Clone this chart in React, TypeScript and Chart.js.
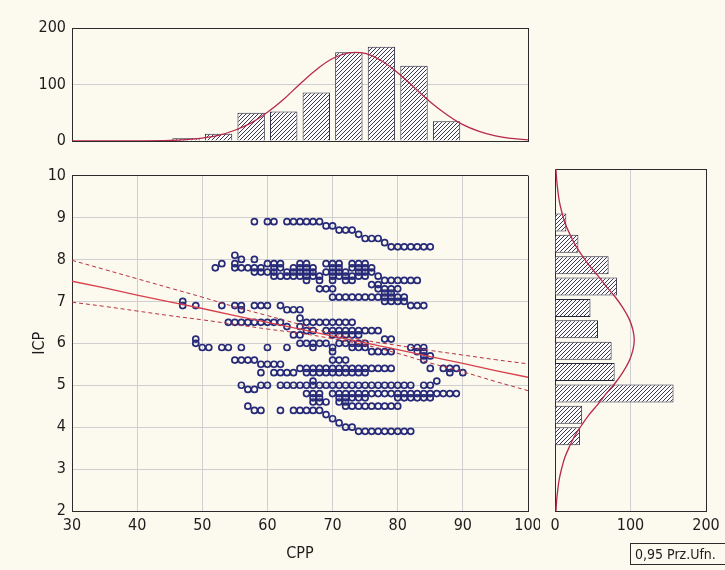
import React, { useEffect, useRef } from 'react';
import { Chart, registerables } from 'chart.js';

Chart.register(...registerables);

const FONT_FAMILY = "'Liberation Sans Narrow', 'Arial Narrow', 'DejaVu Sans Condensed', 'Liberation Sans', sans-serif";
const TEXT = '#1c1c1c';
const FRAME = '#2b2b2b';
const GRID = '#cfcfcf';
const NAVY = '#262a78';
const FIT_RED = '#d8404c';
const BAND_RED = '#b8303e';
const CURVE_RED = '#b7284a';
const BAR_EDGE = '#24243c';
const PAGE_BG = '#fcfaef';

// CPP histogram: bin centres (5-unit bins) and counts
const cppBins = [47.5, 52.5, 57.5, 62.5, 67.5, 72.5, 77.5, 82.5, 87.5];
const cppCounts = [5, 13, 50, 52, 86, 157, 167, 133, 35];

// Expected-normal curve over the CPP histogram
const cppCurveX = [30, 35, 40, 45, 47.5, 50, 52.5, 55, 57.5, 60, 62.5, 65, 67.5, 70, 72.5, 75, 77.5, 80, 82.5, 85, 87.5, 90, 92.5, 95, 97.5, 100];
const cppCurveY = [0, 0, 0.2, 1, 2.4, 5.2, 10, 19, 32, 51, 74, 101, 126, 146, 156, 155, 142, 121, 95, 69, 47, 29, 17, 9, 4.5, 2];

// ICP histogram: bin centres (0.5-unit bins) and counts
const icpBins = [3.75, 4.25, 4.75, 5.25, 5.75, 6.25, 6.75, 7.25, 7.75, 8.25, 8.75];
const icpCounts = [33, 36, 157, 79, 75, 57, 47, 82, 71, 31, 15];

// Expected-normal curve over the ICP histogram
const icpCurveIcp = [2, 2.25, 2.5, 2.75, 3, 3.25, 3.5, 3.75, 4, 4.25, 4.5, 4.75, 5, 5.25, 5.5, 5.75, 6, 6.25, 6.5, 6.75, 7, 7.25, 7.5, 7.75, 8, 8.25, 8.5, 8.75, 9, 9.25, 9.5, 9.75, 10];
const icpCurveCount = [1.3, 2.2, 3.7, 5.7, 8.9, 13, 19, 26, 35, 45, 57, 68, 80, 90, 98, 103, 105, 103, 98, 90, 80, 68, 57, 45, 35, 26, 19, 13, 8.9, 5.7, 3.7, 2.2, 1.3];

// Linear fit of ICP on CPP with its 0.95 confidence band
const fitCpp = [30, 35, 40, 45, 50, 55, 60, 65, 70, 75, 80, 85, 90, 95, 100];
const fitIcp = [7.48, 7.32, 7.15, 6.99, 6.83, 6.66, 6.5, 6.34, 6.17, 6.01, 5.85, 5.68, 5.52, 5.35, 5.19];
const fitUpper = [7.98, 7.76, 7.54, 7.32, 7.1, 6.87, 6.66, 6.45, 6.23, 6.07, 5.95, 5.83, 5.72, 5.61, 5.51];
const fitLower = [6.98, 6.88, 6.77, 6.66, 6.56, 6.45, 6.34, 6.24, 6.11, 5.96, 5.76, 5.53, 5.32, 5.09, 4.87];

// Observations grouped by ICP level: each row lists the CPP values seen at that ICP
const icpLevels = [
  8.9, 8.8, 8.7, 8.6, 8.5, 8.4, 8.3, 8.1, 8.0, 7.9,
  7.8, 7.7, 7.6, 7.5, 7.4, 7.3, 7.2, 7.1, 7.0, 6.9,
  6.8, 6.6, 6.5, 6.4, 6.3, 6.2, 6.1, 6.0, 5.9, 5.8,
  5.7, 5.6, 5.5, 5.4, 5.3, 5.1, 5.0, 4.9, 4.8, 4.7,
  4.6, 4.5, 4.4, 4.3, 4.2, 4.1, 4.0, 3.9,
];
const cppAtLevel = [
  [58, 60, 61, 63, 64, 65, 66, 67, 68],
  [69, 70],
  [71, 72, 73],
  [74],
  [75, 76, 77],
  [78],
  [79, 80, 81, 82, 83, 84, 85],
  [55],
  [56, 58],
  [53, 55, 60, 61, 62, 65, 66, 69, 70, 71, 73, 74, 75],
  [52, 55, 56, 57, 58, 59, 61, 62, 64, 65, 66, 67, 70, 71, 73, 74, 75, 76],
  [58, 59, 60, 61, 63, 64, 65, 66, 67, 69, 70, 71, 72, 74, 75, 76],
  [61, 62, 63, 64, 65, 66, 67, 68, 70, 71, 72, 73, 74, 75, 77],
  [66, 68, 70, 72, 73, 78, 79, 80, 81, 82, 83],
  [76, 77],
  [68, 69, 70, 77, 78, 79, 80],
  [78, 79],
  [70, 71, 72, 73, 74, 75, 76, 77, 78, 79, 80, 81],
  [47, 78, 79, 80, 81],
  [47, 49, 53, 55, 56, 58, 59, 60, 62, 82, 83, 84],
  [56, 63, 64, 65],
  [65],
  [54, 55, 56, 57, 58, 59, 60, 61, 62, 66, 67, 68, 69, 70, 71, 72, 73],
  [63, 65],
  [66, 67, 69, 70, 71, 72, 73, 74, 75, 76, 77],
  [64, 65, 70, 71, 72, 73, 74],
  [49, 78, 79],
  [49, 65, 66, 67, 68, 69, 71, 72, 73, 74, 75],
  [50, 51, 53, 54, 56, 60, 63, 67, 70, 73, 74, 75, 82, 83, 84],
  [70, 76, 77, 78, 79, 83, 84],
  [84, 85],
  [55, 56, 57, 58, 70, 71, 72, 84],
  [59, 60, 61, 62],
  [65, 66, 67, 68, 69, 70, 71, 72, 73, 74, 75, 76, 77, 78, 79, 85, 87, 88, 89],
  [59, 61, 62, 63, 64, 66, 67, 68, 69, 70, 71, 72, 73, 74, 75, 88, 90],
  [67, 86],
  [56, 59, 60, 62, 63, 64, 65, 66, 67, 68, 69, 70, 71, 72, 73, 74, 75, 76, 77, 78, 79, 80, 81, 82, 84, 85],
  [57, 58],
  [66, 67, 68, 70, 71, 72, 73, 74, 75, 76, 77, 78, 79, 80, 81, 82, 83, 84, 85, 86, 87, 88, 89],
  [67, 68, 71, 72, 73, 74, 75, 80, 81, 82, 83, 84, 85],
  [67, 68, 69, 71, 72],
  [57, 72, 73, 74, 75, 76, 77, 78, 79, 80],
  [58, 59, 62, 64, 65, 66, 67, 68],
  [69],
  [70],
  [71],
  [72, 73],
  [74, 75, 76, 77, 78, 79, 80, 81, 82],
];

const cppTicks = { min: 30, max: 100, step: 10 };
const icpTicks = { min: 2, max: 10, step: 1 };
const cppCountTicks = { min: 0, max: 200, step: 100 };
const icpCountTicks = { min: 0, max: 200, step: 100 };

const tickFont = { family: FONT_FAMILY, size: 16 };

function hatchPattern(): CanvasPattern | string {
  const tile = document.createElement('canvas');
  tile.width = 4;
  tile.height = 4;
  const g = tile.getContext('2d');
  if (!g) return '#bbbbbb';
  g.fillStyle = '#fbfbfd';
  g.fillRect(0, 0, 4, 4);
  g.strokeStyle = '#3c3c46';
  g.lineWidth = 1;
  g.beginPath();
  g.moveTo(0, 4);
  g.lineTo(4, 0);
  g.moveTo(-1, 1);
  g.lineTo(1, -1);
  g.moveTo(3, 5);
  g.lineTo(5, 3);
  g.stroke();
  return g.createPattern(tile, 'repeat') || '#bbbbbb';
}

// grid line colour: frame colour at the axis ends, optional light line inside
const edgeGrid = (lo: number, hi: number, inner: string) => (ctx: any) => {
  const v = ctx.tick ? ctx.tick.value : null;
  if (v === lo || v === hi) return FRAME;
  return inner;
};

// keep the plot frame fixed: end tick labels may hang past the plot edges
const noLabelOverhang = (s: any) => {
  s.paddingLeft = 0;
  s.paddingRight = 0;
};

function ChartCanvas({ left, top, width, height, build }: { left: number; top: number; width: number; height: number; build: () => any }) {
  const ref = useRef<HTMLCanvasElement | null>(null);
  useEffect(() => {
    if (!ref.current) return;
    const chart = new Chart(ref.current, build());
    return () => chart.destroy();
  }, []);
  return (
    <canvas
      ref={ref}
      width={width}
      height={height}
      style={{ position: 'absolute', left, top, width, height }}
    />
  );
}

function topHistogram() {
  const hatch = hatchPattern();
  return {
    type: 'bar',
    data: {
      datasets: [
        {
          type: 'line',
          data: cppCurveX.map((x, i) => ({ x, y: cppCurveY[i] })),
          borderColor: CURVE_RED,
          borderWidth: 1.3,
          pointRadius: 0,
          tension: 0.4,
          fill: false,
        },
        {
          type: 'bar',
          data: cppBins.map((x, i) => ({ x, y: cppCounts[i] })),
          backgroundColor: hatch,
          borderColor: BAR_EDGE,
          borderWidth: 1,
          barPercentage: 0.84,
          categoryPercentage: 1,
        },
      ],
    },
    options: {
      animation: false,
      responsive: false,
      devicePixelRatio: 1,
      layout: { padding: { top: 28, right: 12, left: 0, bottom: 0 } },
      plugins: { legend: { display: false }, tooltip: { enabled: false } },
      scales: {
        x: {
          type: 'linear',
          min: cppTicks.min,
          max: cppTicks.max,
          offset: false,
          ticks: { display: false, stepSize: cppTicks.step },
          grid: { offset: false, drawTicks: false, color: edgeGrid(cppTicks.min, cppTicks.max, 'rgba(0,0,0,0)') },
          border: { display: true, color: FRAME },
          afterFit: (s: any) => { s.height = 19; noLabelOverhang(s); },
        },
        y: {
          type: 'linear',
          min: cppCountTicks.min,
          max: cppCountTicks.max,
          ticks: { stepSize: cppCountTicks.step, font: tickFont, color: TEXT, padding: 6 },
          grid: { drawTicks: false, color: edgeGrid(cppCountTicks.min, cppCountTicks.max, GRID) },
          border: { display: true, color: FRAME },
          afterFit: (s: any) => { s.width = 72; },
        },
      },
    },
  };
}

function rightHistogram() {
  const hatch = hatchPattern();
  return {
    type: 'bar',
    data: {
      datasets: [
        {
          type: 'line',
          data: icpCurveIcp.map((y, i) => ({ x: icpCurveCount[i], y })),
          borderColor: CURVE_RED,
          borderWidth: 1.3,
          pointRadius: 0,
          tension: 0.4,
          fill: false,
          indexAxis: 'y',
        },
        {
          type: 'bar',
          data: icpBins.map((y, i) => ({ x: icpCounts[i], y })),
          backgroundColor: hatch,
          borderColor: BAR_EDGE,
          borderWidth: 1,
          barPercentage: 0.84,
          categoryPercentage: 1,
        },
      ],
    },
    options: {
      indexAxis: 'y',
      animation: false,
      responsive: false,
      devicePixelRatio: 1,
      layout: { padding: { top: 9, right: 19, left: 0, bottom: 0 } },
      plugins: { legend: { display: false }, tooltip: { enabled: false } },
      scales: {
        x: {
          type: 'linear',
          min: icpCountTicks.min,
          max: icpCountTicks.max,
          ticks: { stepSize: icpCountTicks.step, font: tickFont, color: TEXT, padding: 5 },
          grid: { drawTicks: false, color: edgeGrid(icpCountTicks.min, icpCountTicks.max, GRID) },
          border: { display: true, color: FRAME },
          afterFit: (s: any) => { s.height = 59; noLabelOverhang(s); },
        },
        y: {
          type: 'linear',
          min: icpTicks.min,
          max: icpTicks.max,
          offset: false,
          ticks: { display: false, stepSize: icpTicks.step },
          grid: { offset: false, drawTicks: false, color: edgeGrid(icpTicks.min, icpTicks.max, 'rgba(0,0,0,0)') },
          border: { display: true, color: FRAME },
          afterFit: (s: any) => { s.width = 15; },
        },
      },
    },
  };
}

function scatterPlot() {
  const points: { x: number; y: number }[] = [];
  icpLevels.forEach((icp, r) => {
    cppAtLevel[r].forEach((cpp) => points.push({ x: cpp, y: icp }));
  });
  const line = (ys: number[]) => fitCpp.map((x, i) => ({ x, y: ys[i] }));
  return {
    type: 'scatter',
    data: {
      datasets: [
        {
          data: line(fitIcp),
          showLine: true,
          borderColor: FIT_RED,
          borderWidth: 1.3,
          pointRadius: 0,
        },
        {
          data: line(fitUpper),
          showLine: true,
          borderColor: BAND_RED,
          borderWidth: 1,
          borderDash: [4, 3],
          pointRadius: 0,
          tension: 0.4,
        },
        {
          data: line(fitLower),
          showLine: true,
          borderColor: BAND_RED,
          borderWidth: 1,
          borderDash: [4, 3],
          pointRadius: 0,
          tension: 0.4,
        },
        {
          data: points,
          pointRadius: 3,
          pointBorderWidth: 1.7,
          borderColor: NAVY,
          backgroundColor: 'rgba(255,255,255,0)',
        },
      ],
    },
    options: {
      animation: false,
      responsive: false,
      devicePixelRatio: 1,
      layout: { padding: { top: 9, right: 12, left: 0, bottom: 0 } },
      plugins: { legend: { display: false }, tooltip: { enabled: false } },
      scales: {
        x: {
          type: 'linear',
          min: cppTicks.min,
          max: cppTicks.max,
          ticks: { stepSize: cppTicks.step, font: tickFont, color: TEXT, padding: 5 },
          grid: { drawTicks: false, color: edgeGrid(cppTicks.min, cppTicks.max, GRID) },
          border: { display: true, color: FRAME },
          title: { display: true, text: 'CPP', font: tickFont, color: TEXT, padding: { top: 0, bottom: 7 } },
          afterFit: (s: any) => { s.height = 59; noLabelOverhang(s); },
        },
        y: {
          type: 'linear',
          min: icpTicks.min,
          max: icpTicks.max,
          ticks: { stepSize: icpTicks.step, font: tickFont, color: TEXT, padding: 6 },
          grid: { drawTicks: false, color: edgeGrid(icpTicks.min, icpTicks.max, GRID) },
          border: { display: true, color: FRAME },
          title: { display: true, text: 'ICP', font: tickFont, color: TEXT, padding: { top: 30, bottom: 0 } },
          afterFit: (s: any) => { s.width = 72; },
        },
      },
    },
  };
}

export default function App() {
  return (
    <div
      style={{
        position: 'fixed',
        left: 0,
        top: 0,
        width: 725,
        height: 570,
        overflow: 'hidden',
        background: PAGE_BG,
      }}
    >
      <ChartCanvas left={0} top={0} width={540} height={160} build={topHistogram} />
      <ChartCanvas left={0} top={160} width={540} height={410} build={scatterPlot} />
      <ChartCanvas left={540} top={160} width={185} height={410} build={rightHistogram} />
      <div
        style={{
          position: 'absolute',
          left: 630,
          top: 543,
          width: 100,
          height: 22,
          border: `1px solid ${FRAME}`,
          boxSizing: 'border-box',
          fontFamily: FONT_FAMILY,
          fontSize: 14,
          lineHeight: '20px',
          paddingLeft: 4,
          color: TEXT,
          whiteSpace: 'nowrap',
        }}
      >
        0,95 Prz.Ufn.
      </div>
    </div>
  );
}
